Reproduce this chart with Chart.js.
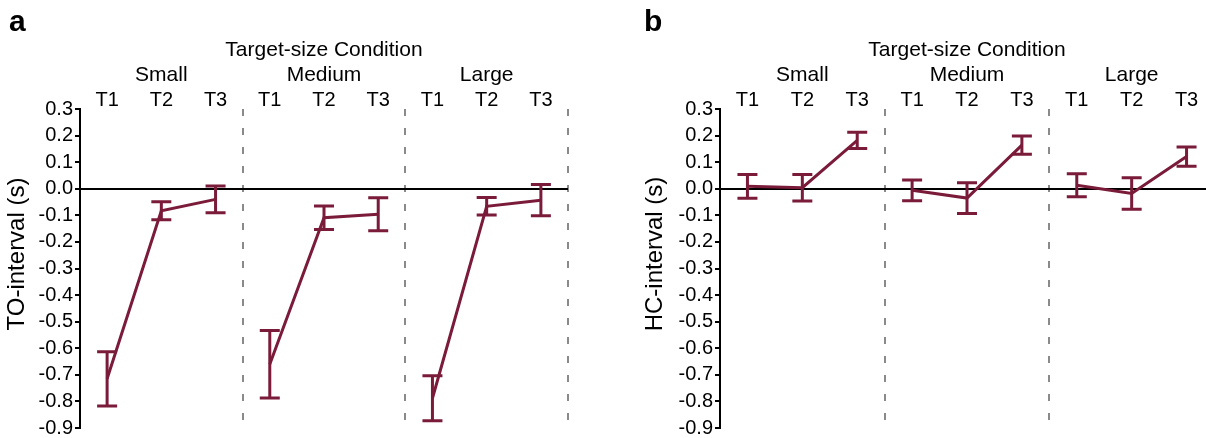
<!DOCTYPE html>
<html>
<head>
<meta charset="utf-8">
<script src="https://cdn.jsdelivr.net/npm/chart.js@4.4.1/dist/chart.umd.min.js"></script>
<style>
  html, body { margin: 0; padding: 0; background: #fff; overflow: hidden; }
  #wrap { position: relative; width: 1206px; height: 438px; overflow: hidden; }
  canvas { position: absolute; top: 0; }
</style>
</head>
<body>
<div id="wrap">
  <canvas id="toChart" width="600" height="438" style="left:0"></canvas>
  <canvas id="hcChart" width="600" height="438" style="left:640px"></canvas>
</div>
<script>
// ======================
// Data
// ======================
const groups = ["Small", "Medium", "Large"];
const timeLabels = ["T1", "T2", "T3"];
const headerTitle = "Target-size Condition";

// order: Small T1..T3, Medium T1..T3, Large T1..T3
const toMean = [-0.715, -0.083, -0.040, -0.660, -0.109, -0.096, -0.788, -0.066, -0.043];
const toErr  = [0.102, 0.034, 0.050, 0.127, 0.044, 0.062, 0.085, 0.033, 0.059];
const hcMean = [0.009, 0.004, 0.182, -0.006, -0.035, 0.164, 0.013, -0.018, 0.121];
const hcErr  = [0.045, 0.050, 0.031, 0.039, 0.058, 0.034, 0.043, 0.059, 0.036];

const maroon = "#7b1b3a";
const font = "'Liberation Sans', Arial, sans-serif";

// ======================
// Error bars + header texts
// ======================
const errorBars = {
    id: "errorBars",
    afterDatasetsDraw(chart, args, opts) {
        const ctx = chart.ctx;
        const xs = chart.scales.x, ys = chart.scales.y;
        ctx.save();
        ctx.strokeStyle = maroon;
        ctx.lineWidth = 3;
        ctx.lineCap = "butt";
        opts.means.forEach((m, i) => {
            const x = xs.getPixelForValue(i + 0.5);
            const yHi = ys.getPixelForValue(m + opts.errs[i]);
            const yLo = ys.getPixelForValue(m - opts.errs[i]);
            ctx.beginPath();
            ctx.moveTo(x, yHi); ctx.lineTo(x, yLo);
            ctx.moveTo(x - 10, yHi); ctx.lineTo(x + 10, yHi);
            ctx.moveTo(x - 10, yLo); ctx.lineTo(x + 10, yLo);
            ctx.stroke();
        });
        ctx.restore();
    }
};

const headers = {
    id: "headers",
    afterDraw(chart, args, opts) {
        const ctx = chart.ctx;
        const xs = chart.scales.x, area = chart.chartArea;
        ctx.save();
        ctx.fillStyle = "#000";
        ctx.textAlign = "center";
        ctx.textBaseline = "middle";
        ctx.font = "21px " + font;
        ctx.fillText(headerTitle, (area.left + xs.getPixelForValue(9)) / 2, 50);
        groups.forEach((g, gi) => {
            ctx.font = "21px " + font;
            ctx.fillText(g, xs.getPixelForValue(gi * 3 + 1.5), 75);
            ctx.font = "20px " + font;
            timeLabels.forEach((t, ti) => {
                ctx.fillText(t, xs.getPixelForValue(gi * 3 + ti + 0.5), 100);
            });
        });
        // y title
        ctx.save();
        ctx.font = "24px " + font;
        ctx.translate(opts.titleX, 254);
        ctx.rotate(-Math.PI / 2);
        ctx.fillText(opts.yTitle, 0, 0);
        ctx.restore();
        // panel letter
        ctx.textAlign = "left";
        ctx.textBaseline = "alphabetic";
        ctx.font = "bold 30px " + font;
        ctx.fillText(opts.letter, opts.letterX, 31);
        ctx.restore();
    }
};

function makeChart(id, means, errs, yTitle, letter, titleX, letterX, padRight) {
    const datasets = groups.map((g, gi) => ({
        label: g,
        data: timeLabels.map((t, ti) => ({ x: gi * 3 + ti + 0.5, y: means[gi * 3 + ti] })),
        borderColor: maroon,
        borderWidth: 3,
        pointRadius: 0,
        tension: 0
    }));

    return new Chart(document.getElementById(id).getContext("2d"), {
        type: "line",
        data: { datasets: datasets },
        options: {
            responsive: false,
            animation: false,
            devicePixelRatio: 1,
            layout: { padding: { left: 0, right: padRight, top: 109, bottom: 9 } },
            plugins: {
                legend: { display: false },
                tooltip: { enabled: false },
                errorBars: { means: means, errs: errs },
                headers: { yTitle: yTitle, letter: letter, titleX: titleX, letterX: letterX }
            },
            scales: {
                x: {
                    type: "linear",
                    min: 0,
                    max: 9,
                    ticks: { display: false, stepSize: 3 },
                    border: { display: false, dash: [7, 12] },
                    grid: {
                        drawTicks: false,
                        lineWidth: 2,
                        color: c => (c.tick && c.tick.value > 0) ? "#8a8a8a" : "rgba(0,0,0,0)"
                    }
                },
                y: {
                    min: -0.9,
                    max: 0.3,
                    afterFit: s => { s.width = 80; },
                    border: { display: true, color: "#000", width: 2 },
                    grid: {
                        lineWidth: 2,
                        tickLength: 5,
                        tickColor: "#000",
                        color: c => (c.tick && Math.abs(c.tick.value) < 1e-9) ? "#000" : "rgba(0,0,0,0)"
                    },
                    ticks: {
                        stepSize: 0.1,
                        padding: 2,
                        color: "#000",
                        font: { family: font, size: 20, lineHeight: 0.8 },
                        callback: v => Math.abs(v) < 1e-9 ? "0.0" : v.toFixed(1)
                    }
                }
            }
        },
        plugins: [errorBars, headers]
    });
}

makeChart("toChart", toMean, toErr, "TO-interval (s)", "a", 17, 9, 32);
makeChart("hcChart", hcMean, hcErr, "HC-interval (s)", "b", 15, 4, 26);
</script>
</body>
</html>
